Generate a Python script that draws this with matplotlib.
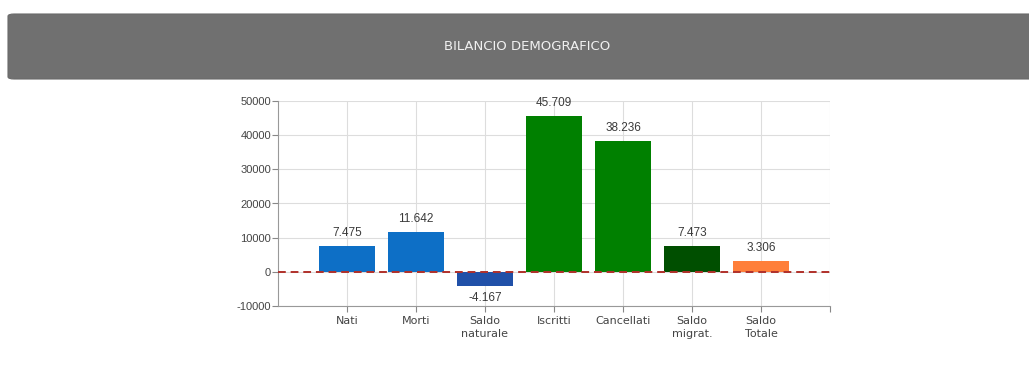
import numpy as np
import matplotlib.pyplot as plt
from matplotlib.patches import FancyBboxPatch

categorie = ['Nati', 'Morti', 'Saldo\nnaturale', 'Iscritti', 'Cancellati', 'Saldo\nmigrat.', 'Saldo\nTotale']
valori = [7475, 11642, -4167, 45709, 38236, 7473, 3306]
etichette = ['7.475', '11.642', '-4.167', '45.709', '38.236', '7.473', '3.306']
colori = ['#0d6fc6', '#0d6fc6', '#2050a8', '#008000', '#008000', '#004f00', '#ff7f3a']

plt.rcParams['font.family'] = ['Liberation Sans', 'DejaVu Sans']
plt.rcParams['axes.unicode_minus'] = False

fig = plt.figure(figsize=(10.29, 3.73), dpi=100)

# header bar
header = FancyBboxPatch((8 / 1029, 1 - 79 / 373), 1.05, 65 / 373,
                        boxstyle='round,pad=0,rounding_size=0.006',
                        transform=fig.transFigure, facecolor='#707070',
                        edgecolor='#6a6a6a', linewidth=0.8)
fig.patches.append(header)
fig.text(527 / 1029, 1 - 47 / 373, 'BILANCIO DEMOGRAFICO', color='#f0f0f0',
         fontsize=9.5, ha='center', va='center', family='DejaVu Sans')

ax = fig.add_axes([278 / 1029, 1 - 306 / 373, (830 - 278) / 1029, (306 - 101) / 373])
x = np.arange(len(categorie))
ax.bar(x, valori, width=0.8, color=colori, zorder=3)

for xi, v, t in zip(x, valori, etichette):
    if v >= 0:
        ax.text(xi, v + 2000, t, ha='center', va='bottom', fontsize=8.5, color='#3a3a3a', zorder=4)
    else:
        ax.text(xi, v - 1600, t, ha='center', va='top', fontsize=8.5, color='#3a3a3a', zorder=4)

ax.axhline(0, color='#b0302a', linestyle=(0, (4, 2.5)), linewidth=1.4, zorder=5)

ax.set_xlim(-1, 7)
ax.set_ylim(-10000, 50000)
ax.set_yticks(np.arange(-10000, 50001, 10000))
ax.set_xticks(list(x) + [7])
ax.set_xticklabels(categorie + [''], fontsize=8, color='#444444', linespacing=1.4,
                   family='DejaVu Sans')
ax.tick_params(axis='y', labelsize=8, labelcolor='#444444', length=4, color='#888888', pad=1)
ax.tick_params(axis='x', length=4, color='#888888', pad=3)

ax.grid(True, color='#dddddd', linewidth=0.8, zorder=0)
for s in ['top', 'right']:
    ax.spines[s].set_visible(False)
for s in ['left', 'bottom']:
    ax.spines[s].set_color('#999999')
    ax.spines[s].set_linewidth(0.8)

fig.savefig('out.png', dpi=100)
